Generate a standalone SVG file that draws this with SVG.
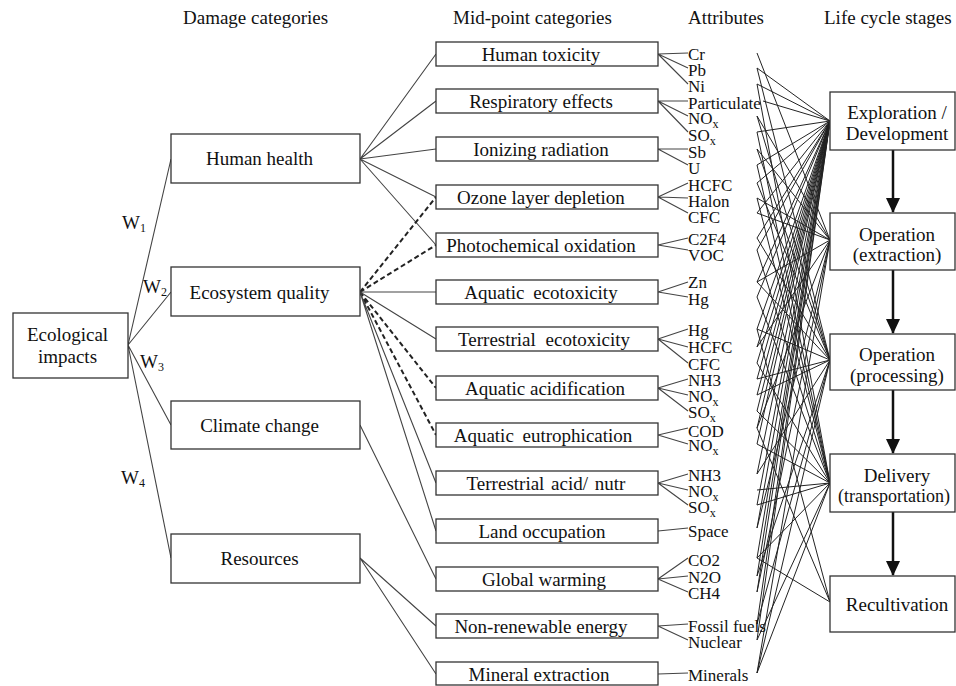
<svg xmlns="http://www.w3.org/2000/svg" width="956" height="686" viewBox="0 0 956 686">
<style>
.box{fill:#fff;stroke:#333;stroke-width:1.3}
.t{font-family:"Liberation Serif","Times New Roman",serif;fill:#111;font-size:19px}
.m{text-anchor:middle}
.a{font-size:17px}
.s{font-size:12px}
.c{stroke:#444;stroke-width:1.1;fill:none}
.d{stroke:#222;stroke-width:2;stroke-dasharray:5 3;fill:none}
.x{stroke:#222;stroke-width:1;fill:none}
.ar{stroke:#111;stroke-width:2.5;fill:none}
</style>
<defs>
<marker id="ah" viewBox="0 0 15 14" refX="14" refY="7" markerWidth="15" markerHeight="14" orient="auto" markerUnits="userSpaceOnUse"><path d="M0,0 L15,7 L0,14 z" fill="#111"/></marker>
</defs>
<rect width="956" height="686" fill="#fff"/>

<g id="headers" class="t">
<text x="183" y="24">Damage categories</text>
<text x="453" y="24">Mid-point categories</text>
<text x="688" y="24">Attributes</text>
<text x="824" y="24">Life cycle stages</text>
</g>

<g id="connectors">
<path class="c" d="M128,345 L171,159 M128,345 L171,292 M128,345 L171,425 M128,345 L171,558"/>
<path class="c" d="M360,159 L436,54 M360,159 L436,101 M360,159 L436,149 M360,159 L436,197 M360,159 L436,245"/>
<path class="d" d="M360,292 L436,197 M360,292 L436,245 M360,292 L436,388 M360,292 L436,435"/>
<path class="c" d="M360,292 L436,292 M360,292 L436,339 M360,292 L436,483 M360,292 L436,531"/>
<path class="c" d="M360,425 L436,579 M360,558 L436,626 M360,558 L436,674"/>
<path class="c" d="M658,54 L688,53 M658,54 L688,68 M658,54 L688,84
M658,101 L688,101 M658,101 L688,116 M658,101 L688,132
M658,149 L688,149 M658,149 L688,165
M658,197 L688,183 M658,197 L688,198 M658,197 L688,213
M658,245 L688,238 M658,245 L688,250
M658,292 L688,282 M658,292 L688,297
M658,339 L688,329 M658,339 L688,347 M658,339 L688,363
M658,388 L688,379 M658,388 L688,395 M658,388 L688,411
M658,435 L688,428 M658,435 L688,444
M658,483 L688,474 M658,483 L688,490 M658,483 L688,505
M658,531 L688,528
M658,579 L688,558 M658,579 L688,576 M658,579 L688,592
M658,626 L688,624 M658,626 L688,640
M658,674 L688,673"/>
<path class="x" d="
M757,53 L830,240
M757,68 L830,121 M757,68 L830,360
M757,84 L830,121 M757,84 L830,483
M763,101 L830,121
M757,116 L830,240 M757,116 L830,360
M757,132 L830,121 M757,132 L830,483
M757,149 L830,240 M757,149 L830,360
M757,165 L830,121 M757,165 L830,483
M757,183 L830,121 M757,183 L830,360
M757,198 L830,240 M757,198 L830,483
M757,213 L830,121 M757,213 L830,240
M757,238 L830,121 M757,238 L830,360
M757,250 L830,121 M757,250 L830,483
M757,282 L830,121 M757,282 L830,240 M757,282 L830,360
M757,297 L830,121 M757,297 L830,483
M757,329 L830,121 M757,329 L830,360 M757,329 L830,602
M757,347 L830,121 M757,347 L830,240
M757,363 L830,121 M757,363 L830,483
M757,379 L830,121 M757,379 L830,360
M757,395 L830,360 M757,395 L830,121
M757,411 L830,121 M757,411 L830,483
M757,428 L830,121 M757,428 L830,240 M757,428 L830,602
M757,444 L830,121 M757,444 L830,483
M757,474 L830,121 M757,474 L830,360
M757,490 L830,483
M757,505 L830,483 M757,505 L830,121
M757,528 L830,121 M757,528 L830,240
M757,558 L830,121 M757,558 L830,483 M757,558 L830,602
M757,576 L830,121 M757,576 L830,360
M757,592 L830,121 M757,592 L830,240
M757,624 L830,121 M757,624 L830,360
M757,640 L830,121 M757,640 L830,483
M757,673 L830,240 M757,673 L830,360 M757,673 L830,483"/>
<path class="ar" marker-end="url(#ah)" d="M893,150 L893,212"/>
<path class="ar" marker-end="url(#ah)" d="M893,270 L893,333"/>
<path class="ar" marker-end="url(#ah)" d="M893,390 L893,453"/>
<path class="ar" marker-end="url(#ah)" d="M893,512 L893,575"/>
</g>

<g id="weights" class="t">
<text x="122" y="229">W<tspan class="s" dy="3">1</tspan></text>
<text x="143" y="293">W<tspan class="s" dy="3">2</tspan></text>
<text x="140" y="368">W<tspan class="s" dy="3">3</tspan></text>
<text x="121" y="484">W<tspan class="s" dy="3">4</tspan></text>
</g>

<g id="ecological-impacts">
<rect class="box" x="13" y="313" width="115" height="65"/>
<text class="t m" x="67.5" y="341">Ecological</text>
<text class="t m" x="67.5" y="363">impacts</text>
</g>

<g id="human-health"><rect class="box" x="171" y="134" width="189" height="49"/><text class="t m" x="259.5" y="165">Human health</text></g>
<g id="ecosystem-quality"><rect class="box" x="171" y="267" width="189" height="49"/><text class="t m" x="259.5" y="299">Ecosystem quality</text></g>
<g id="climate-change"><rect class="box" x="171" y="401" width="189" height="48"/><text class="t m" x="259.5" y="432">Climate change</text></g>
<g id="resources"><rect class="box" x="171" y="534" width="189" height="49"/><text class="t m" x="259.5" y="565">Resources</text></g>

<g id="human-toxicity"><rect class="box" x="436" y="42" width="222" height="24"/><text class="t m" x="541" y="60.5">Human toxicity</text></g>
<g id="respiratory-effects"><rect class="box" x="436" y="89" width="222" height="24"/><text class="t m" x="541" y="107.5">Respiratory effects</text></g>
<g id="ionizing-radiation"><rect class="box" x="436" y="137" width="222" height="24"/><text class="t m" x="541" y="155.5">Ionizing radiation</text></g>
<g id="ozone-layer-depletion"><rect class="box" x="436" y="185" width="222" height="24"/><text class="t m" x="541" y="203.5">Ozone layer depletion</text></g>
<g id="photochemical-oxidation"><rect class="box" x="436" y="233" width="222" height="24"/><text class="t m" x="541" y="251.5">Photochemical oxidation</text></g>
<g id="aquatic-ecotoxicity"><rect class="box" x="436" y="280" width="222" height="24"/><text class="t m" x="541" y="298.5" word-spacing="4">Aquatic ecotoxicity</text></g>
<g id="terrestrial-ecotoxicity"><rect class="box" x="436" y="327" width="222" height="24"/><text class="t m" x="544" y="345.5" word-spacing="5">Terrestrial ecotoxicity</text></g>
<g id="aquatic-acidification"><rect class="box" x="436" y="376" width="222" height="24"/><text class="t m" x="545" y="394.5">Aquatic acidification</text></g>
<g id="aquatic-eutrophication"><rect class="box" x="436" y="423" width="222" height="24"/><text class="t m" x="543" y="441.5" word-spacing="4">Aquatic eutrophication</text></g>
<g id="terrestrial-acid-nutr"><rect class="box" x="436" y="471" width="222" height="24"/><text class="t m" x="546" y="489.5" word-spacing="2">Terrestrial acid/ nutr</text></g>
<g id="land-occupation"><rect class="box" x="436" y="519" width="222" height="24"/><text class="t m" x="542" y="537.5">Land occupation</text></g>
<g id="global-warming"><rect class="box" x="436" y="567" width="222" height="24"/><text class="t m" x="544" y="585.5">Global warming</text></g>
<g id="non-renewable-energy"><rect class="box" x="436" y="614" width="222" height="24"/><text class="t m" x="541" y="632.5">Non-renewable energy</text></g>
<g id="mineral-extraction"><rect class="box" x="436" y="662" width="222" height="23"/><text class="t m" x="539" y="680.5">Mineral extraction</text></g>

<g id="attributes" class="t a">
<text x="688" y="60">Cr</text>
<text x="688" y="76">Pb</text>
<text x="688" y="92">Ni</text>
<text x="688" y="109">Particulate</text>
<text x="688" y="124">NO<tspan class="s" dy="4">x</tspan></text>
<text x="688" y="141">SO<tspan class="s" dy="4">x</tspan></text>
<text x="688" y="158">Sb</text>
<text x="688" y="174">U</text>
<text x="688" y="191">HCFC</text>
<text x="688" y="207">Halon</text>
<text x="688" y="223">CFC</text>
<text x="688" y="245">C2F4</text>
<text x="688" y="261">VOC</text>
<text x="688" y="288">Zn</text>
<text x="688" y="305">Hg</text>
<text x="688" y="336">Hg</text>
<text x="688" y="353">HCFC</text>
<text x="688" y="370">CFC</text>
<text x="688" y="386">NH3</text>
<text x="688" y="402">NO<tspan class="s" dy="4">x</tspan></text>
<text x="688" y="418">SO<tspan class="s" dy="4">x</tspan></text>
<text x="688" y="437">COD</text>
<text x="688" y="451">NO<tspan class="s" dy="4">x</tspan></text>
<text x="688" y="481">NH3</text>
<text x="688" y="497">NO<tspan class="s" dy="4">x</tspan></text>
<text x="688" y="513">SO<tspan class="s" dy="4">x</tspan></text>
<text x="688" y="537">Space</text>
<text x="688" y="566">CO2</text>
<text x="688" y="583">N2O</text>
<text x="688" y="599">CH4</text>
<text x="688" y="632">Fossil fuels</text>
<text x="688" y="648">Nuclear</text>
<text x="688" y="681">Minerals</text>
</g>

<g id="exploration-development"><rect class="box" x="830" y="92" width="125" height="58"/><text class="t m" x="897" y="119">Exploration /</text><text class="t m" x="897" y="140">Development</text></g>
<g id="operation-extraction"><rect class="box" x="830" y="213" width="125" height="57"/><text class="t m" x="897" y="241">Operation</text><text class="t m" x="897" y="261">(extraction)</text></g>
<g id="operation-processing"><rect class="box" x="830" y="334" width="125" height="56"/><text class="t m" x="897" y="361">Operation</text><text class="t m" x="897" y="382">(processing)</text></g>
<g id="delivery-transportation"><rect class="box" x="830" y="454" width="125" height="58"/><text class="t m" x="897" y="482">Delivery</text><text class="t m" x="894" y="502" style="font-size:18px">(transportation)</text></g>
<g id="recultivation"><rect class="box" x="830" y="576" width="125" height="56"/><text class="t m" x="897" y="611">Recultivation</text></g>
</svg>
